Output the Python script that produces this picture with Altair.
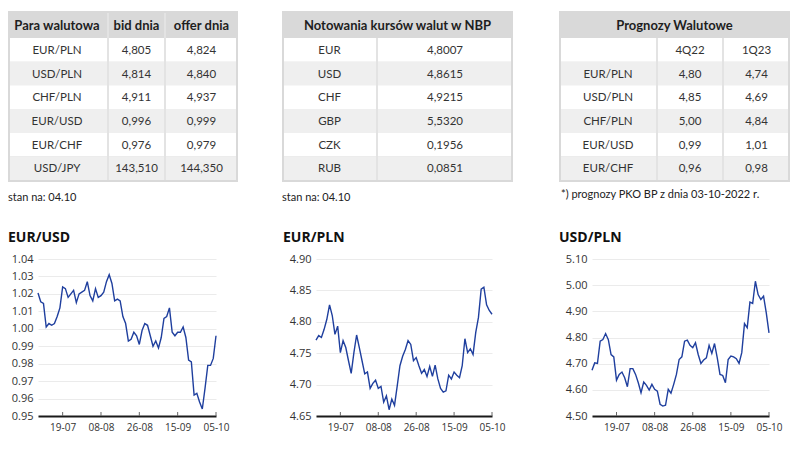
import altair as alt
import pandas as pd

# ---------------- data ----------------
T1_HEADER = ["Para walutowa", "bid dnia", "offer dnia"]
T1_PAIRS = ["EUR/PLN", "USD/PLN", "CHF/PLN", "EUR/USD", "EUR/CHF", "USD/JPY"]
T1_BID = ["4,805", "4,814", "4,911", "0,996", "0,976", "143,510"]
T1_OFFER = ["4,824", "4,840", "4,937", "0,999", "0,979", "144,350"]

T2_TITLE = "Notowania kursów walut w NBP"
T2_CUR = ["EUR", "USD", "CHF", "GBP", "CZK", "RUB"]
T2_RATE = ["4,8007", "4,8615", "4,9215", "5,5320", "0,1956", "0,0851"]

T3_TITLE = "Prognozy Walutowe"
T3_COLS = ["", "4Q22", "1Q23"]
T3_PAIRS = ["EUR/PLN", "USD/PLN", "CHF/PLN", "EUR/USD", "EUR/CHF"]
T3_Q4 = ["4,80", "4,85", "5,00", "0,99", "0,96"]
T3_Q1 = ["4,74", "4,69", "4,84", "1,01", "0,98"]

FOOT_1 = "stan na: 04.10"
FOOT_2 = "stan na: 04.10"
FOOT_3 = "*) prognozy PKO BP z dnia 03-10-2022 r."

X_TICK_IDX = [9, 23, 37, 51, 65]
X_TICK_LABELS = ["19-07", "08-08", "26-08", "15-09", "05-10"]

EURUSD = [1.0205, 1.0155, 1.0145, 1.001, 1.003, 1.002, 1.003, 1.007, 1.012, 1.024,
          1.023, 1.018, 1.020, 1.022, 1.015, 1.020, 1.021, 1.022, 1.027, 1.019,
          1.016, 1.023, 1.018, 1.019, 1.021, 1.027, 1.031, 1.026, 1.016, 1.017,
          1.016, 1.007, 1.003, 0.993, 0.994, 0.998, 0.996, 0.991, 0.999, 1.003,
          1.002, 0.996, 0.990, 0.993, 0.989, 0.995, 1.006, 1.007, 1.012, 0.998,
          0.996, 0.998, 0.998, 1.001, 0.995, 0.982, 0.981, 0.962, 0.963, 0.958,
          0.954, 0.966, 0.979, 0.979, 0.983, 0.996]
EURPLN = [4.771, 4.778, 4.775, 4.788, 4.804, 4.827, 4.810, 4.780, 4.793, 4.751,
          4.770, 4.759, 4.738, 4.718, 4.751, 4.779, 4.759, 4.738, 4.717, 4.720,
          4.694, 4.702, 4.707, 4.694, 4.697, 4.672, 4.682, 4.660, 4.677, 4.667,
          4.698, 4.730, 4.745, 4.756, 4.770, 4.764, 4.738, 4.743, 4.730, 4.718,
          4.724, 4.713, 4.729, 4.713, 4.731, 4.709, 4.694, 4.688, 4.690, 4.715,
          4.709, 4.720, 4.715, 4.711, 4.730, 4.773, 4.751, 4.757, 4.748, 4.783,
          4.807, 4.852, 4.855, 4.827, 4.818, 4.812]
USDPLN = [4.675, 4.703, 4.701, 4.786, 4.792, 4.815, 4.792, 4.735, 4.726, 4.637,
          4.659, 4.668, 4.646, 4.612, 4.681, 4.681, 4.659, 4.627, 4.589, 4.630,
          4.617, 4.599, 4.621, 4.602, 4.595, 4.545, 4.538, 4.541, 4.602, 4.587,
          4.621, 4.659, 4.716, 4.726, 4.786, 4.790, 4.770, 4.761, 4.780, 4.735,
          4.701, 4.714, 4.722, 4.770, 4.739, 4.777, 4.722, 4.659, 4.655, 4.627,
          4.716, 4.729, 4.726, 4.719, 4.701, 4.742, 4.853, 4.837, 4.935, 4.930,
          5.015, 4.964, 4.945, 4.958, 4.894, 4.818]

EURUSD_TICKS = [0.95, 0.96, 0.97, 0.98, 0.99, 1.00, 1.01, 1.02, 1.03, 1.04]
EURPLN_TICKS = [4.65, 4.70, 4.75, 4.80, 4.85, 4.90]
USDPLN_TICKS = [4.50, 4.60, 4.70, 4.80, 4.90, 5.00, 5.10]

# ---------------- layout / style ----------------
TABLE_FONT = "Lato"
AXIS_FONT = "Open Sans"
LINE_COLOR = "#1f3f9e"
TOP = 11
HEAD_BOTTOM = 38
BODY_BOTTOM = 180
BOTTOM = 182
ROW_H = (BODY_BOTTOM - HEAD_BOTTOM) / 6
T1_EDGES = [8, 108, 165, 238]
T2_EDGES = [282, 377, 513]
T3_EDGES = [559, 657, 723, 790]
X_LO, X_HI = 38, 790
Y_LO, Y_HI = 11, 211

rects, seps, htext, btext = [], [], [], []


def add_table(edges, header, columns, split_header, first_center=None):
    rects.append(dict(x0=edges[0], x1=edges[-1], y0=TOP, y1=BOTTOM, fill="#d9d9d9"))
    centers = [(edges[c] + edges[c + 1]) / 2 for c in range(len(edges) - 1)]
    if first_center is not None:
        centers[0] = first_center
    for r in range(6):
        y0 = HEAD_BOTTOM + r * ROW_H
        rects.append(dict(x0=edges[0] + 2, x1=edges[-1] - 2, y0=y0, y1=y0 + ROW_H,
                          fill="#ffffff" if r % 2 == 0 else "#efefef"))
        for c, col in enumerate(columns):
            btext.append(dict(x=centers[c], y=y0 + ROW_H / 2 + 4, t=col[r]))
    for e in edges[1:-1]:
        seps.append(dict(x=e, y0=HEAD_BOTTOM, y1=BODY_BOTTOM, c="#e3e3e3", w=2))
        if split_header:
            seps.append(dict(x=e, y0=TOP + 2, y1=HEAD_BOTTOM, c="#e6e6e6", w=1.5))
    if split_header:
        for c, h in enumerate(header):
            htext.append(dict(x=centers[c], y=(TOP + HEAD_BOTTOM) / 2 + 5.5, t=h))
    else:
        htext.append(dict(x=(edges[0] + edges[-1]) / 2, y=(TOP + HEAD_BOTTOM) / 2 + 5.5, t=header))


add_table(T1_EDGES, T1_HEADER, [T1_PAIRS, T1_BID, T1_OFFER], True, first_center=57)
add_table(T2_EDGES, T2_TITLE, [T2_CUR, T2_RATE], False)
add_table(T3_EDGES, T3_TITLE, [[T3_COLS[0]] + T3_PAIRS, [T3_COLS[1]] + T3_Q4, [T3_COLS[2]] + T3_Q1], False)

foot = pd.DataFrame([
    dict(x=T1_EDGES[0], y=201, t=FOOT_1),
    dict(x=T2_EDGES[0], y=201, t=FOOT_2),
    dict(x=T3_EDGES[0] + 2, y=198, t=FOOT_3),
])

xs = alt.Scale(domain=[X_LO, X_HI], nice=False, zero=False)
ys = alt.Scale(domain=[Y_LO, Y_HI], nice=False, zero=False, reverse=True)

rect_layer = alt.Chart(pd.DataFrame(rects)).mark_rect().encode(
    x=alt.X("x0:Q", scale=xs, axis=None), x2="x1:Q",
    y=alt.Y("y0:Q", scale=ys, axis=None), y2="y1:Q",
    color=alt.Color("fill:N", scale=None))
sep_layer = alt.Chart(pd.DataFrame(seps)).mark_rule().encode(
    x=alt.X("x:Q", scale=xs, axis=None),
    y=alt.Y("y0:Q", scale=ys, axis=None), y2="y1:Q",
    color=alt.Color("c:N", scale=None),
    strokeWidth=alt.StrokeWidth("w:Q", scale=None))
head_layer = alt.Chart(pd.DataFrame(htext)).mark_text(
    font=TABLE_FONT, fontSize=13, fontWeight="bold", color="#1e1e1e", baseline="alphabetic"
).encode(x=alt.X("x:Q", scale=xs, axis=None), y=alt.Y("y:Q", scale=ys, axis=None), text="t:N")
body_layer = alt.Chart(pd.DataFrame(btext)).mark_text(
    font=TABLE_FONT, fontSize=11.5, color="#333333", baseline="alphabetic"
).encode(x=alt.X("x:Q", scale=xs, axis=None), y=alt.Y("y:Q", scale=ys, axis=None), text="t:N")
foot_layer = alt.Chart(foot).mark_text(
    font=TABLE_FONT, fontSize=11, color="#222222", baseline="alphabetic", align="left"
).encode(x=alt.X("x:Q", scale=xs, axis=None), y=alt.Y("y:Q", scale=ys, axis=None), text="t:N")

top = alt.layer(rect_layer, sep_layer, head_layer, body_layer, foot_layer).properties(
    width=X_HI - X_LO, height=Y_HI - Y_LO)

label_expr = "[" + ",".join(f"'{s}'" for s in X_TICK_LABELS) + "][indexof([" + \
    ",".join(str(v) for v in X_TICK_IDX) + "], datum.value)]"


def make_line(title, vals, yticks, width, title_dx):
    df = pd.DataFrame({"i": list(range(len(vals))), "v": vals})
    xscale = alt.Scale(domain=[0, 65], nice=False, zero=False)
    xaxis = alt.Axis(values=X_TICK_IDX, labelExpr=label_expr, grid=False, ticks=False,
                     domainColor="#1a1a1a", domainWidth=2, labelPadding=6, labelOverlap=False,
                     labelFlush=False, labelFont=AXIS_FONT, labelFontSize=10,
                     labelColor="#333333", title=None)
    line = alt.Chart(df).mark_line(color=LINE_COLOR, strokeWidth=1.4).encode(
        x=alt.X("i:Q", scale=xscale, axis=xaxis),
        y=alt.Y("v:Q", scale=alt.Scale(domain=[yticks[0], yticks[-1]], nice=False, zero=False),
                axis=alt.Axis(values=yticks, format=".2f", grid=True, gridColor="#ebebeb",
                              domain=False, ticks=False, labelPadding=5, labelFont=AXIS_FONT,
                              labelFontSize=11, labelColor="#333333", title=None)))
    tk = alt.Chart(pd.DataFrame({"i": X_TICK_IDX})).mark_rule(color="#666666", strokeWidth=1).encode(
        x=alt.X("i:Q", scale=xscale, axis=xaxis), y=alt.value(157), y2=alt.value(153))
    return alt.layer(line, tk).properties(
        width=width, height=157,
        title=alt.TitleParams(title, anchor="start", frame="group", dx=title_dx, dy=13, offset=10,
                              baseline="alphabetic", font=AXIS_FONT, fontSize=14,
                              fontWeight="bold", color="#111111"))


bottom = alt.hconcat(
    make_line("EUR/USD", EURUSD, EURUSD_TICKS, 178, -30),
    make_line("EUR/PLN", EURPLN, EURPLN_TICKS, 176, -33),
    make_line("USD/PLN", USDPLN, USDPLN_TICKS, 177, -33),
    spacing=100, bounds="flush")

chart = alt.vconcat(top, bottom, spacing=48, bounds="flush").properties(
    padding={"left": 0, "top": 3, "right": 0, "bottom": 0}, background="#ffffff"
).configure_view(strokeWidth=0)

chart.save("out.html", embed_options={"renderer": "svg", "actions": False})
